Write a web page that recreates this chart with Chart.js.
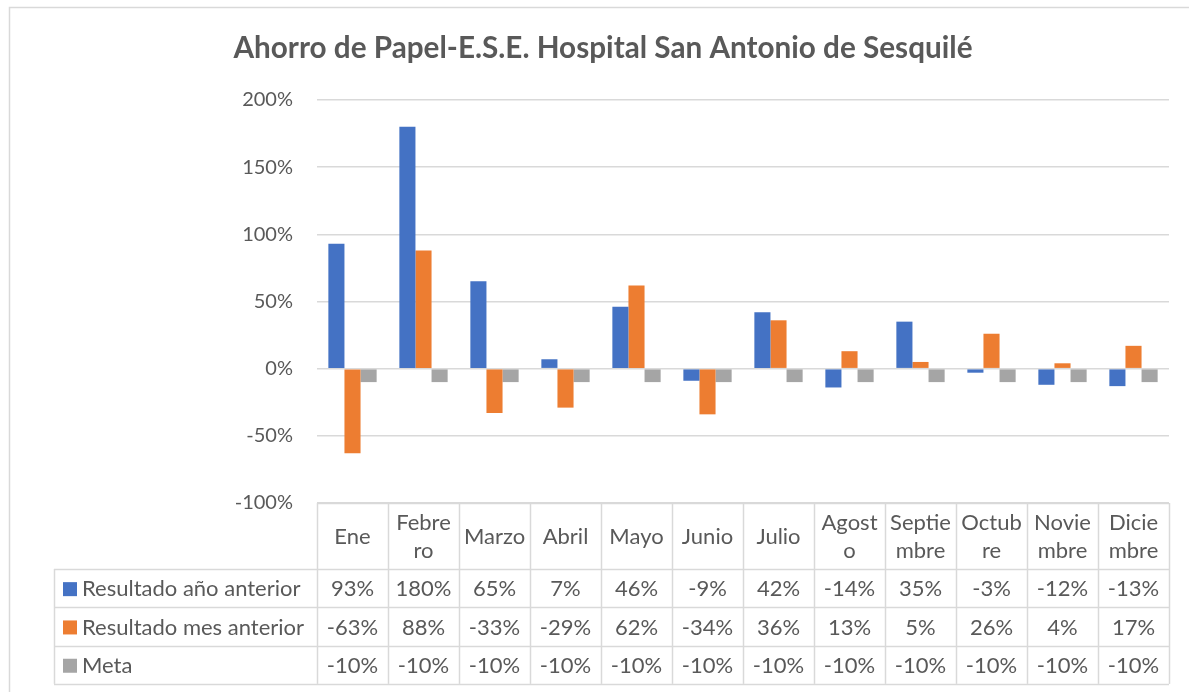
<!DOCTYPE html>
<html>
<head>
<meta charset="utf-8">
<script src="https://cdn.jsdelivr.net/npm/chart.js@4"></script>
<style>
html,body{margin:0;padding:0;background:#fff;}
#wrap{position:relative;width:1189px;height:692px;}
</style>
</head>
<body>
<div id="wrap"><canvas id="c" width="1189" height="692"></canvas></div>
<script>
const titleText = 'Ahorro de Papel-E.S.E. Hospital San Antonio de Sesquilé';
const months = ['Ene','Febrero','Marzo','Abril','Mayo','Junio','Julio','Agosto','Septiembre','Octubre','Noviembre','Diciembre'];
const monthLines = [['Ene'],['Febre','ro'],['Marzo'],['Abril'],['Mayo'],['Junio'],['Julio'],['Agost','o'],['Septie','mbre'],['Octub','re'],['Novie','mbre'],['Dicie','mbre']];
const seriesNames = ['Resultado año anterior','Resultado mes anterior','Meta'];
const resultadoAnio = [93,180,65,7,46,-9,42,-14,35,-3,-12,-13];
const resultadoMes = [-63,88,-33,-29,62,-34,36,13,5,26,4,17];
const meta = [-10,-10,-10,-10,-10,-10,-10,-10,-10,-10,-10,-10];
const yMin = -100, yMax = 200, yStep = 50;

const colors = ['#4472C4','#ED7D31','#A5A5A5'];
const FONT = 'Lato, "Open Sans", sans-serif';
const TXT = '#595959';
const LINE = '#D9D9D9';

const tablePlugin = {
  id: 'dataTable',
  beforeDraw(chart) {
    const ctx = chart.ctx;
    ctx.save();
    ctx.fillStyle = '#fff';
    ctx.fillRect(0,0,chart.width,chart.height);
    ctx.strokeStyle = LINE;
    ctx.lineWidth = 1.5;
    ctx.strokeRect(9.5, 7.5, chart.width + 20, chart.height + 20);
    ctx.fillStyle = TXT;
    ctx.font = 'bold 29.7px ' + FONT;
    ctx.textAlign = 'center';
    ctx.textBaseline = 'middle';
    ctx.fillText(titleText, 603, 48);
    ctx.restore();
  },
  afterDraw(chart) {
    const ctx = chart.ctx;
    const x = chart.scales.x;
    const area = chart.chartArea;
    const n = months.length;
    const cw = (area.right - area.left) / n;
    const top = area.bottom;
    const headerH = 66;
    const rowH = 38.3;
    const legendLeft = 54;
    const bottom = top + headerH + rowH * 3;
    const allData = [resultadoAnio, resultadoMes, meta];
    ctx.save();
    ctx.strokeStyle = LINE;
    ctx.lineWidth = 1.5;
    for (let i = 0; i <= n; i++) {
      const px = Math.round(area.left + i * cw) + 0.5;
      ctx.beginPath(); ctx.moveTo(px, top); ctx.lineTo(px, bottom); ctx.stroke();
    }
    ctx.beginPath(); ctx.moveTo(legendLeft + 0.5, top + headerH); ctx.lineTo(legendLeft + 0.5, bottom); ctx.stroke();
    ctx.beginPath(); ctx.moveTo(area.left, top + 0.5); ctx.lineTo(area.right, top + 0.5); ctx.stroke();
    for (let r = 0; r <= 3; r++) {
      const py = Math.round(top + headerH + r * rowH) + 0.5;
      ctx.beginPath(); ctx.moveTo(legendLeft, py); ctx.lineTo(area.right, py); ctx.stroke();
    }
    ctx.fillStyle = TXT;
    ctx.font = '22px ' + FONT;
    ctx.textAlign = 'center';
    ctx.textBaseline = 'middle';
    for (let i = 0; i < n; i++) {
      const cx = x.getPixelForValue(i);
      const lines = monthLines[i];
      const lh = 28;
      const y0 = top + headerH / 2 - (lines.length - 1) * lh / 2 + 1;
      lines.forEach((t, k) => ctx.fillText(t, cx, y0 + k * lh));
    }
    for (let r = 0; r < 3; r++) {
      const cy = top + headerH + r * rowH + rowH / 2 + 1;
      ctx.textAlign = 'center';
      ctx.fillStyle = TXT;
      for (let i = 0; i < n; i++) {
        ctx.fillText(allData[r][i] + '%', x.getPixelForValue(i), cy);
      }
      ctx.fillStyle = colors[r];
      ctx.fillRect(63, cy - 7, 14, 14);
      ctx.fillStyle = TXT;
      ctx.textAlign = 'left';
      ctx.fillText(seriesNames[r], 82, cy);
    }
    ctx.restore();
  }
};

new Chart(document.getElementById('c'), {
  type: 'bar',
  data: {
    labels: months,
    datasets: [
      {label: seriesNames[0], data: resultadoAnio, backgroundColor: colors[0]},
      {label: seriesNames[1], data: resultadoMes, backgroundColor: colors[1]},
      {label: seriesNames[2], data: meta, backgroundColor: colors[2]}
    ]
  },
  options: {
    responsive: false,
    animation: false,
    devicePixelRatio: 1,
    layout: {padding: {left: 0, right: 20, top: 100, bottom: 189}},
    datasets: {bar: {categoryPercentage: 0.68, barPercentage: 1.0}},
    plugins: {
      legend: {display: false},
      tooltip: {enabled: false},
      title: {display: false}
    },
    scales: {
      x: {display: false},
      y: {
        min: yMin, max: yMax,
        afterFit(s) { s.width = 317; },
        border: {display: false},
        grid: {color: LINE, lineWidth: 1.5, drawTicks: false},
        ticks: {
          stepSize: yStep,
          padding: 24,
          color: TXT,
          font: {family: FONT, size: 20},
          callback: v => v + '%'
        }
      }
    }
  },
  plugins: [tablePlugin]
});
</script>
</body>
</html>
